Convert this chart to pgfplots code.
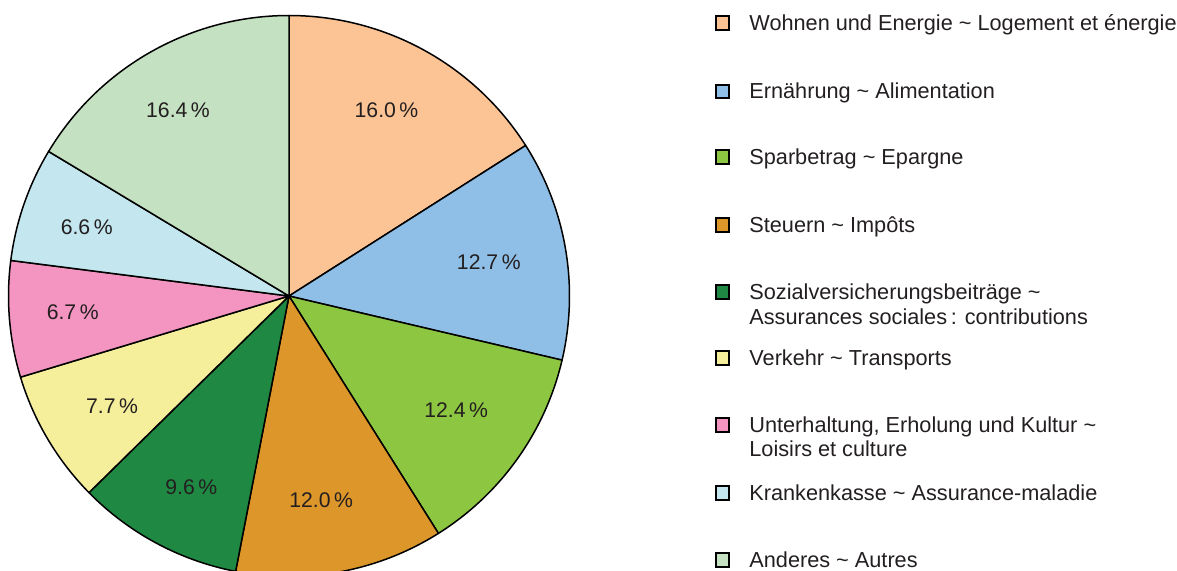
\documentclass[border=0pt]{standalone}
\usepackage{pgfplots}
\pgfplotsset{compat=1.18}
\usepackage{pgfplotstable}
\usepackage{fontspec}
\setmainfont{Liberation Sans}

\definecolor{cA}{RGB}{252,196,148}
\definecolor{cB}{RGB}{143,191,231}
\definecolor{cC}{RGB}{141,198,65}
\definecolor{cD}{RGB}{221,150,41}
\definecolor{cE}{RGB}{31,136,67}
\definecolor{cF}{RGB}{245,239,155}
\definecolor{cG}{RGB}{243,149,192}
\definecolor{cH}{RGB}{196,231,239}
\definecolor{cI}{RGB}{196,225,193}
\definecolor{txt}{RGB}{35,31,32}

\newcommand\lab{\fontsize{10.6}{12.7}\selectfont}
\newcommand\leg{\fontsize{10.85}{13}\selectfont}

% share of each category (percent), clockwise from the top; label position
\pgfplotstableread{
value color labx laby
16.0 cA 386.5 460.3
12.7 cB 488.8 308.0
12.4 cC 456.2 160.0
12.0 cD 321.2 70.3
9.6 cE 191.3 82.7
7.7 cF 112.0 163.7
6.7 cG 72.7 258.3
6.6 cH 86.7 343.3
16.4 cI 178.0 460.0
}\piedata

\newcommand\legbox[2]{\node[draw=black, line width=1pt, fill=#2, minimum size=6.6pt, inner sep=0pt] at (axis cs:722.5,#1) {};}
\newcommand\legtext[2]{\node[anchor=base west, inner sep=0pt, font=\leg, text=txt] at (axis cs:749,#1) {#2};}

\begin{document}
\begin{tikzpicture}
\useasboundingbox (0,0) rectangle (588.5pt,285pt);
\def\cx{289}\def\cy{274}\def\Rpt{140.25pt}
\def\tot{0}
\pgfplotsforeachungrouped \i in {0,...,8}{%
  \pgfplotstablegetelem{\i}{value}\of\piedata
  \pgfmathsetmacro\tot{\tot+\pgfplotsretval}}
\def\cum{0}
\pgfplotsforeachungrouped \i in {0,...,8}{%
  \pgfplotstablegetelem{\i}{value}\of\piedata
  \let\val\pgfplotsretval
  \expandafter\let\csname val\i\endcsname\val
  \pgfplotstablegetelem{\i}{color}\of\piedata
  \expandafter\let\csname col\i\endcsname\pgfplotsretval
  \pgfplotstablegetelem{\i}{labx}\of\piedata
  \expandafter\let\csname lx\i\endcsname\pgfplotsretval
  \pgfplotstablegetelem{\i}{laby}\of\piedata
  \expandafter\let\csname ly\i\endcsname\pgfplotsretval
  \pgfmathsetmacro\aS{90-(\cum/\tot)*360}%
  \pgfmathsetmacro\cum{\cum+\val}%
  \pgfmathsetmacro\aE{90-(\cum/\tot)*360}%
  \expandafter\let\csname aS\i\endcsname\aS
  \expandafter\let\csname aE\i\endcsname\aE
}
\begin{axis}[hide axis, scale only axis, x=0.5pt, y=0.5pt,
  xmin=0, xmax=1177, ymin=0, ymax=570, clip=true]
\pgfplotsinvokeforeach{0,...,8}{%
  \edef\tmp{\noexpand\filldraw[fill=\csname col#1\endcsname, draw=black, line width=0.75pt, line join=round]
    (axis cs:\cx,\cy) -- ++(\csname aS#1\endcsname:\Rpt)
    arc[start angle=\csname aS#1\endcsname, end angle=\csname aE#1\endcsname, radius=\Rpt] -- cycle;}%
  \tmp
}
\pgfplotsinvokeforeach{0,...,8}{%
  \edef\tmp{\noexpand\node[font=\noexpand\lab, text=txt, inner sep=0pt]
    at (axis cs:\csname lx#1\endcsname,\csname ly#1\endcsname)
    {\csname val#1\endcsname\noexpand\,\noexpand\%};}%
  \tmp
}
\legbox{547}{cA}\legtext{540}{Wohnen und Energie \textasciitilde{} Logement et énergie}
\legbox{478.5}{cB}\legtext{471.5}{Ernährung \textasciitilde{} Alimentation}
\legbox{413}{cC}\legtext{406}{Sparbetrag \textasciitilde{} Epargne}
\legbox{345}{cD}\legtext{338}{Steuern \textasciitilde{} Impôts}
\legbox{278}{cE}\legtext{271}{Sozialversicherungsbeiträge \textasciitilde}
\legtext{246}{Assurances sociales\,: contributions}
\legbox{212}{cF}\legtext{205}{Verkehr \textasciitilde{} Transports}
\legbox{145}{cG}\legtext{138}{Unterhaltung, Erholung und Kultur \textasciitilde}
\legtext{113.5}{Loisirs et culture}
\legbox{77}{cH}\legtext{70}{Krankenkasse \textasciitilde{} Assurance-maladie}
\legbox{10}{cI}\legtext{3}{Anderes \textasciitilde{} Autres}
\end{axis}
\end{tikzpicture}
\end{document}
